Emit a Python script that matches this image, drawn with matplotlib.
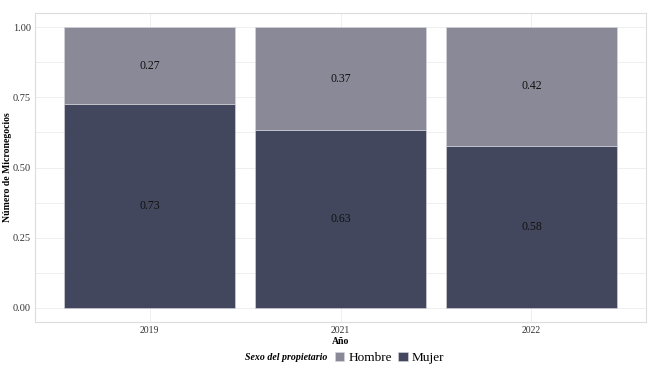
import matplotlib.pyplot as plt
import numpy as np

years = ['2019', '2021', '2022']
mujer = [0.726, 0.633, 0.578]
hombre = [1 - v for v in mujer]

col_hombre = '#8a8997'
col_mujer = '#42475e'

plt.rcParams['font.family'] = ['Liberation Serif', 'DejaVu Serif']

fig = plt.figure(figsize=(6.5, 3.72), dpi=100)
ax = fig.add_axes([35/650, 50/372, 611/650, 309/372])

x = np.arange(len(years))
w = 0.9
ax.bar(x, mujer, width=w, color=col_mujer, edgecolor='#d8d8de', linewidth=0.4, zorder=2, label='Mujer')
ax.bar(x, hombre, bottom=mujer, width=w, color=col_hombre, edgecolor='#d8d8de', linewidth=0.4, zorder=2, label='Hombre')

for i in range(len(years)):
    ax.text(x[i], mujer[i] / 2, '%.2f' % round(mujer[i], 2), ha='center', va='center', fontsize=8.5, color='#111111', zorder=3)
    ax.text(x[i], mujer[i] + hombre[i] / 2, '%.2f' % round(hombre[i], 2), ha='center', va='center', fontsize=8.5, color='#111111', zorder=3)

ax.set_xlim(-0.6, 2.6)
ax.set_ylim(-0.05, 1.05)
ax.set_xticks(x)
ax.set_xticklabels(years, fontsize=7, color='#333333')
ax.set_yticks([0, 0.25, 0.5, 0.75, 1.0])
ax.set_yticklabels(['0.00', '0.25', '0.50', '0.75', '1.00'], fontsize=7.5, color='#333333')
ax.set_yticks([0.125, 0.375, 0.625, 0.875], minor=True)
ax.tick_params(length=0, pad=3, which='both')
ax.grid(True, which='both', color='#ececec', linewidth=0.6, zorder=0)
for s in ax.spines.values():
    s.set_color('#dcdcdc')
    s.set_linewidth(0.8)

ax.set_xlabel('Año', fontsize=7, fontweight='bold', labelpad=1)
ax.set_ylabel('Número de Micronegocios', fontsize=7, fontweight='bold')
ax.yaxis.set_label_coords(-23/611, 0.5)

fig.text(327/650, 1 - 358/372, 'Sexo del propietario', fontsize=7.1, fontweight='bold', style='italic', ha='right', va='center')
handles, labels = ax.get_legend_handles_labels()
fig.legend(handles[::-1], labels[::-1], loc='center left', bbox_to_anchor=(335/650, 1 - 358/372), ncol=2,
           frameon=False, fontsize=9.5, handlelength=0.7, handleheight=0.7, handletextpad=0.3, columnspacing=0.5,
           borderpad=0, borderaxespad=0)

fig.savefig('out.png', dpi=100)
